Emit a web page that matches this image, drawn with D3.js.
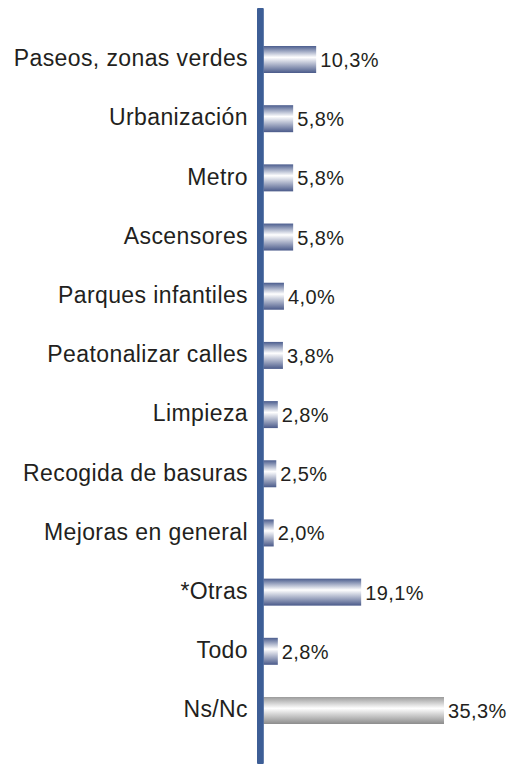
<!DOCTYPE html>
<html>
<head>
<meta charset="utf-8">
<script src="https://cdn.jsdelivr.net/npm/d3@7"></script>
<style>
  html, body { margin: 0; padding: 0; background: #ffffff; }
  svg { display: block; }
</style>
</head>
<body>
<script>
const categories = ["Paseos, zonas verdes", "Urbanización", "Metro", "Ascensores", "Parques infantiles", "Peatonalizar calles", "Limpieza", "Recogida de basuras", "Mejoras en general", "*Otras", "Todo", "Ns/Nc"];
const values = [10.3, 5.8, 5.8, 5.8, 4.0, 3.8, 2.8, 2.5, 2.0, 19.1, 2.8, 35.3];
const valueLabels = ["10,3%", "5,8%", "5,8%", "5,8%", "4,0%", "3,8%", "2,8%", "2,5%", "2,0%", "19,1%", "2,8%", "35,3%"];
const grayCategory = "Ns/Nc";

const W = 512, H = 764;
const svg = d3.select("body").append("svg").attr("width", W).attr("height", H);

const defs = svg.append("defs");
function grad(id, edgeTop, mid, edgeBot) {
  const g = defs.append("linearGradient").attr("id", id)
    .attr("x1", 0).attr("y1", 0).attr("x2", 0).attr("y2", 1);
  g.append("stop").attr("offset", "0%").attr("stop-color", edgeTop);
  g.append("stop").attr("offset", "42%").attr("stop-color", mid);
  g.append("stop").attr("offset", "100%").attr("stop-color", edgeBot);
}
grad("gBlue", "#4b5d8e", "#ffffff", "#4a5a8a");
grad("gGray", "#9b9b9b", "#ffffff", "#8c8c8c");

const y = d3.scalePoint().domain(categories).range([59.5, 710.5]);
const x = d3.scaleLinear().domain([0, 35.3]).range([263.5, 444]);
const barH = 27;

const g = svg.append("g");

g.selectAll("rect.bar").data(categories).join("rect")
  .attr("class", "bar")
  .attr("x", x(0))
  .attr("y", d => y(d) - barH / 2)
  .attr("width", (d, i) => x(values[i]) - x(0))
  .attr("height", barH)
  .attr("fill", d => d === grayCategory ? "url(#gGray)" : "url(#gBlue)");

// axis line
svg.append("rect").attr("x", 257).attr("y", 8).attr("width", 6.8).attr("height", H - 8)
  .attr("fill", "#3d5e96").attr("rx", 1);

g.selectAll("text.cat").data(categories).join("text")
  .attr("class", "cat")
  .attr("x", 248)
  .attr("y", d => y(d) + 6.8)
  .attr("text-anchor", "end")
  .attr("font-family", "'Liberation Sans', Arial, Helvetica, sans-serif")
  .attr("font-size", 23)
  .attr("letter-spacing", 0.4)
  .attr("fill", "#231f20")
  .text(d => d);

g.selectAll("text.val").data(categories).join("text")
  .attr("class", "val")
  .attr("x", (d, i) => x(values[i]) + 4)
  .attr("y", d => y(d) + 7.5)
  .attr("font-family", "'Liberation Sans', Arial, Helvetica, sans-serif")
  .attr("font-size", 20)
  .attr("letter-spacing", 0.4)
  .attr("fill", "#231f20")
  .text((d, i) => valueLabels[i]);
</script>
</body>
</html>
